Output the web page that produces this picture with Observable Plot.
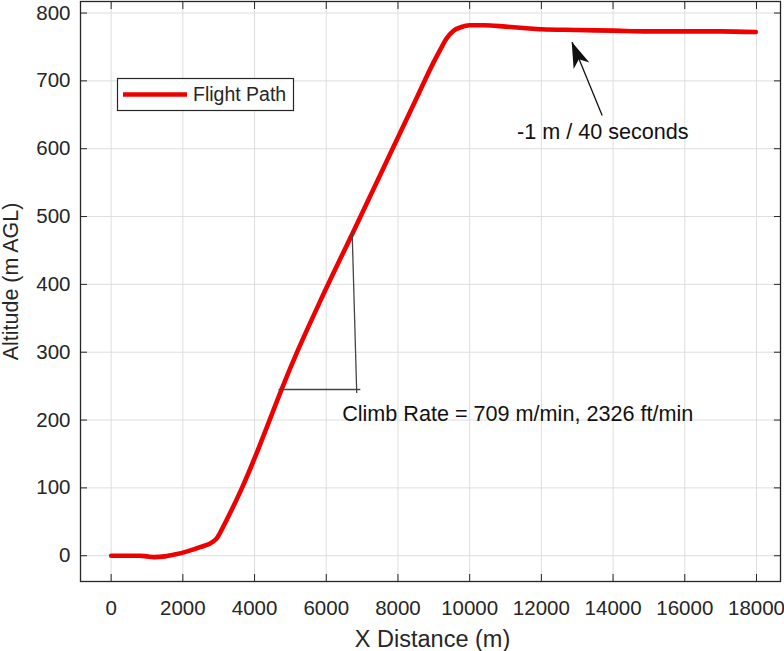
<!DOCTYPE html>
<html>
<head>
<meta charset="utf-8">
<script src="https://cdn.jsdelivr.net/npm/d3@7"></script>
<script src="https://cdn.jsdelivr.net/npm/@observablehq/plot@0.6"></script>
<style>
  html, body { margin: 0; padding: 0; background: #fff; }
  #chart { position: relative; width: 784px; height: 651px; }
</style>
</head>
<body>
<div id="chart"></div>
<script>
// ---- data ----
const distance = [0, 400, 800, 1000, 1200, 1500, 1800, 2100, 2500, 2850, 2950, 3100, 3300, 3650, 4050, 4420, 4752, 5186, 5838, 6748, 7600, 8488, 9000, 9200, 9350, 9550, 9750, 10000, 10400, 11000, 11500, 12000, 13000, 14000, 15000, 16000, 17000, 17980];
const altitude = [0, 0, 0, -1, -2, -1, 2, 6, 13, 21, 26, 40, 61, 100, 150, 200, 245, 300, 376, 477, 572, 671, 728, 748, 762, 774, 779, 782, 782, 780, 778, 776, 775, 774, 773, 773, 773, 772];
const seriesName = "Flight Path";
const xTicks = [0, 2000, 4000, 6000, 8000, 10000, 12000, 14000, 16000, 18000];
const yTicks = [0, 100, 200, 300, 400, 500, 600, 700, 800];
const xLabel = "X Distance (m)";
const yLabel = "Altitude (m AGL)";
// climb-rate triangle (data coords)
const triX1 = [4670, 6722];
const triY1 = [245, 477];
const triX2 = [6950, 6850];
const triY2 = [245, 240];
// annotation texts (data coords of text start / baseline)
const noteText = ["Climb Rate = 709 m/min, 2326 ft/min", "-1 m / 40 seconds"];
const noteX = [6444, 11320];
const noteY = [198, 614];
// arrow from tail to tip
const arrowFrom = [13696, 649];
const arrowTo = [12859, 757];

// ---- build ----
const path = distance.map((d, i) => ({x: d, y: altitude[i]}));
const tri = triX1.map((d, i) => ({x1: d, y1: triY1[i], x2: triX2[i], y2: triY2[i]}));
const notes = noteText.map((t, i) => ({text: t, x: noteX[i], y: noteY[i]}));
const arrow = [{x1: arrowFrom[0], y1: arrowFrom[1], x2: arrowTo[0], y2: arrowTo[1]}];

const FONT = "'Liberation Sans', Arial, Helvetica, sans-serif";
const INK = "#262626";
const RED = "#ee0000";
const fmt = d => String(d);

const svg = Plot.plot({
  width: 784,
  height: 651,
  marginLeft: 80,
  marginRight: 4,
  marginTop: 1,
  marginBottom: 70,
  style: {fontFamily: FONT, background: "#fff", color: INK, overflow: "visible"},
  x: {domain: [-855, 18670], label: null},
  y: {domain: [-38, 817], label: null},
  marks: [
    Plot.gridX(xTicks, {stroke: "#dedede", strokeOpacity: 1, strokeWidth: 1}),
    Plot.gridY(yTicks, {stroke: "#dedede", strokeOpacity: 1, strokeWidth: 1}),
    // inward ticks on all four sides
    Plot.axisX(xTicks, {anchor: "bottom", tickSize: 7, dy: -7, text: null, label: null, stroke: INK}),
    Plot.axisX(xTicks, {anchor: "top", tickSize: 7, dy: 7, text: null, label: null, stroke: INK}),
    Plot.axisY(yTicks, {anchor: "left", tickSize: 7, dx: 7, text: null, label: null, stroke: INK}),
    Plot.axisY(yTicks, {anchor: "right", tickSize: 7, dx: -7, text: null, label: null, stroke: INK}),
    // tick labels
    Plot.axisX(xTicks, {anchor: "bottom", tickSize: 0, tickPadding: 18.5, tickFormat: fmt, fontSize: 20.5, label: null, fill: INK}),
    Plot.axisY(yTicks, {anchor: "left", tickSize: 0, tickPadding: 10, tickFormat: fmt, fontSize: 20.5, label: null, fill: INK}),
    Plot.frame({stroke: INK, strokeWidth: 1.3}),
    // axis titles
    Plot.text([xLabel], {frameAnchor: "bottom", dx: 2, dy: 65, lineAnchor: "bottom", textAnchor: "middle", text: d => d, fontSize: 23.5, fill: INK}),
    Plot.text([yLabel], {frameAnchor: "left", rotate: -90, dx: -62.5, dy: -10, lineAnchor: "bottom", textAnchor: "middle", text: d => d, fontSize: 21.5, fill: INK, ariaLabel: "ylabel"}),
    // flight path
    Plot.line(path, {x: "x", y: "y", stroke: RED, strokeWidth: 4.6, curve: "monotone-x", strokeLinejoin: "round", strokeLinecap: "round"}),
    // climb triangle
    Plot.link(tri, {x1: "x1", y1: "y1", x2: "x2", y2: "y2", stroke: "#444", strokeWidth: 1.3}),
    // arrow shaft
    Plot.link(arrow, {x1: "x1", y1: "y1", x2: "x2", y2: "y2", stroke: "#111", strokeWidth: 1.3}),
    // annotation texts
    Plot.text(notes, {x: "x", y: "y", text: "text", textAnchor: "start", lineAnchor: "bottom", fontSize: 21.6, fill: "#111"})
  ]
});

const s = d3.select(svg);

// stretch the y-axis title along its length as in the reference
s.selectAll("g[aria-label='ylabel'] text")
  .attr("textLength", 205).attr("lengthAdjust", "spacingAndGlyphs");

// filled arrowhead at the arrow tip, placed through the plot's scales
const sx = svg.scale("x"), sy = svg.scale("y");
const tx = sx.apply(arrowTo[0]), ty = sy.apply(arrowTo[1]);
const fx = sx.apply(arrowFrom[0]), fy = sy.apply(arrowFrom[1]);
const ang = Math.atan2(ty - fy, tx - fx) * 180 / Math.PI;
s.append("path")
  .attr("d", "M0,0 L-26,-8.5 L-19,0 L-26,8.5 Z")
  .attr("fill", "#111")
  .attr("transform", `translate(${tx},${ty}) rotate(${ang})`);

// legend box (inside axes, top-left)
const lg = s.append("g").attr("class", "legend").attr("text-anchor", "start");
lg.append("rect").attr("x", 117.5).attr("y", 78.5).attr("width", 176).attr("height", 32)
  .attr("fill", "#fff").attr("stroke", INK).attr("stroke-width", 1.2);
lg.append("line").attr("x1", 123).attr("x2", 187).attr("y1", 94.5).attr("y2", 94.5)
  .attr("stroke", RED).attr("stroke-width", 4.6);
lg.append("text").attr("x", 193).attr("y", 94.5).attr("dy", "0.35em")
  .attr("text-anchor", "start")
  .attr("font-size", 19.5).attr("fill", INK).attr("font-family", FONT).text(seriesName);

document.getElementById("chart").appendChild(svg);
</script>
</body>
</html>
